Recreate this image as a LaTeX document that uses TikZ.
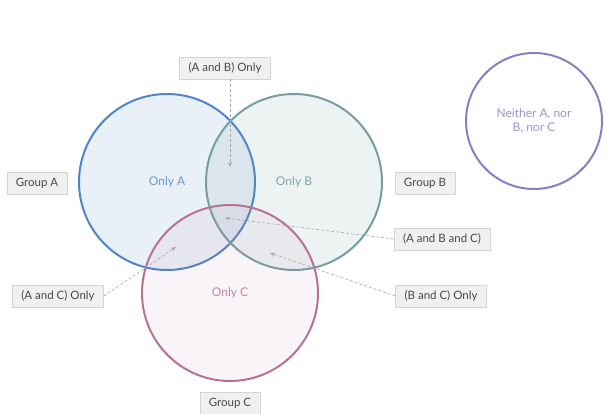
\documentclass[tikz,border=0pt]{standalone}
\usepackage{fontspec}
\setmainfont{Lato}
\usetikzlibrary{arrows.meta, positioning}
\definecolor{setA}{RGB}{78,132,200}
\definecolor{setB}{RGB}{118,156,165}
\definecolor{setC}{RGB}{182,114,150}
\definecolor{setN}{RGB}{142,124,194}
\definecolor{tagfill}{RGB}{240,240,240}
\definecolor{tagline}{RGB}{212,212,212}
\definecolor{tagtext}{RGB}{72,72,72}
\tikzset{
  venn/.style  = {circle, line width=2pt, minimum size=176pt, inner sep=0pt},
  tag/.style   = {draw=tagline, fill=tagfill, line width=0.6pt, text=tagtext,
                  font=\fontsize{11.5}{13}\selectfont, minimum height=22pt,
                  inner xsep=9pt},
  inlabel/.style = {font=\fontsize{12}{14}\selectfont, align=center},
  pointer/.style = {-{Stealth[length=5pt, width=4pt]}, dashed, gray!70,
                    line width=0.6pt, dash pattern=on 3pt off 2pt},
}

\begin{document}
\begin{tikzpicture}[x=1pt, y=-1pt]
  \useasboundingbox (0,0) rectangle (606,414);
  % the three sets
  \node[venn, draw=setA, fill=setA, fill opacity=0.12, draw opacity=1] (circA) at (167,182) {};
  \node[venn, draw=setB, fill=setB, fill opacity=0.13, draw opacity=1] (circB) at (294,182) {};
  \node[venn, draw=setC, fill=setC, fill opacity=0.08, draw opacity=1] (circC) at (230,293) {};
  \node[inlabel, text=setA!85] at (circA) {Only A};
  \node[inlabel, text=setB!90] at (circB) {Only B};
  \node[inlabel, text=setC!85] at (circC) {Only C};
  % outside of everything
  \node[venn, draw=setN, minimum size=136pt] (circN) at (534,121) {};
  \node[inlabel, text=setN!85] at (circN) {Neither A, nor\\B, nor C};
  % group tags
  \node[tag] (grpA) at (37,183) {Group A};
  \node[tag] (grpB) at (425,183) {Group B};
  \node[tag] (grpC) at (230,403) {Group C};
  % region tags
  \node[tag] (tagAB) at (225,68) {(A and B) Only};
  \node[tag] (tagABC) at (442,239) {(A and B and C)};
  \node[tag] (tagBC) at (441,296) {(B and C) Only};
  \node[tag] (tagAC) at (58,296) {(A and C) Only};
  \coordinate (ptAB) at (230,167);
  \coordinate (ptABC) at (225,218);
  \coordinate (ptBC) at (270,253);
  \coordinate (ptAC) at (176,247);
  \draw[pointer] (tagAB.south -| ptAB) -- (ptAB);
  \draw[pointer] (tagABC.west) -- (ptABC);
  \draw[pointer] (tagBC.west) -- (ptBC);
  \draw[pointer] (tagAC.east) -- (ptAC);
\end{tikzpicture}
\end{document}
